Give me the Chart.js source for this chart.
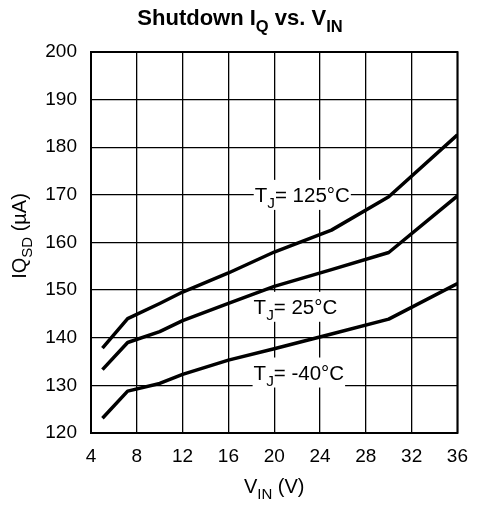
<!DOCTYPE html>
<html>
<head>
<meta charset="utf-8">
<script src="https://cdn.jsdelivr.net/npm/chart.js@4"></script>
<style>
  html, body { margin: 0; padding: 0; background: #fff; }
  #wrap { width: 480px; height: 506px; }
</style>
</head>
<body>
<div id="wrap"><canvas id="c" width="480" height="506"></canvas></div>
<script>
// V_IN (V) sample points and shutdown IQ (uA) per junction temperature
const vin = [5, 7.2, 10, 12, 16, 20, 25, 30, 36];
const iq125 = [137.8, 144.0, 147.2, 149.6, 153.6, 158.0, 162.6, 169.6, 182.6];
const iq25 = [133.3, 139.0, 141.3, 143.6, 147.2, 150.8, 154.3, 157.9, 169.8];
const iqNeg40 = [123.1, 128.8, 130.4, 132.3, 135.3, 137.7, 140.8, 143.9, 151.4];
const xTicks = [4, 8, 12, 16, 20, 24, 28, 32, 36];
const yTicks = [120, 130, 140, 150, 160, 170, 180, 190, 200];

// curve labels: [prefix, subscript, rest, left V, centre IQ]
const curveLabels = [
  ['T', 'J', '= 125°C', 18.3, 170.0],
  ['T', 'J', '= 25°C', 18.2, 146.5],
  ['T', 'J', '= -40°C', 18.2, 132.7],
];

const FONT = '"Liberation Sans", Arial, Helvetica, sans-serif';
const SUB = 0.75;
const LABEL_SIZE = 20.5;

function pts(ys) {
  return vin.map((v, i) => ({ x: v, y: ys[i] }));
}

function setFont(ctx, size, bold, sub) {
  ctx.font = `${bold ? 'bold ' : ''}${sub ? size * SUB : size}px ${FONT}`;
}

function measureRich(ctx, parts, size, bold) {
  return parts.reduce((s, p) => {
    setFont(ctx, size, bold, p.sub);
    return s + ctx.measureText(p.t).width;
  }, 0);
}

// draws text made of normal / subscript runs
function richText(ctx, parts, x, y, size, bold, align) {
  const w = measureRich(ctx, parts, size, bold);
  let cx = align === 'center' ? x - w / 2 : x;
  ctx.textBaseline = 'alphabetic';
  ctx.textAlign = 'left';
  parts.forEach(p => {
    setFont(ctx, size, bold, p.sub);
    ctx.fillText(p.t, cx, p.sub ? y + size * 0.3 : y);
    cx += ctx.measureText(p.t).width;
  });
  return w;
}

const textPlugin = {
  id: 'texts',
  // curve labels sit on white boxes that hide the grid, under the curves
  beforeDatasetsDraw(chart) {
    const { ctx, scales: { x, y } } = chart;
    ctx.save();
    curveLabels.forEach(([p, s, r, lv, li]) => {
      const px = x.getPixelForValue(lv);
      const py = y.getPixelForValue(li);
      const parts = [{ t: p }, { t: s, sub: true }, { t: r }];
      const w = measureRich(ctx, parts, LABEL_SIZE, false);
      ctx.fillStyle = '#fff';
      ctx.fillRect(px - 1, py - 15, w + 2, 30);
      ctx.fillStyle = '#000';
      richText(ctx, parts, px, py + 7, LABEL_SIZE, false, 'left');
    });
    ctx.restore();
  },
  afterDatasetsDraw(chart) {
    const { ctx, chartArea: a } = chart;
    ctx.save();
    ctx.fillStyle = '#000';

    // frame
    ctx.strokeStyle = '#000';
    ctx.lineWidth = 2;
    ctx.strokeRect(a.left, a.top, a.right - a.left, a.bottom - a.top);

    // title
    richText(ctx, [
      { t: 'Shutdown I' }, { t: 'Q', sub: true }, { t: ' vs. V' }, { t: 'IN', sub: true }
    ], 240, 25, 22, true, 'center');

    // x axis title
    richText(ctx, [{ t: 'V' }, { t: 'IN', sub: true }, { t: ' (V)' }],
      (a.left + a.right) / 2, 493, 20, false, 'center');

    // y axis title
    ctx.translate(26, 236);
    ctx.rotate(-Math.PI / 2);
    richText(ctx, [{ t: 'IQ' }, { t: 'SD', sub: true }, { t: ' (µA)' }], 0, 0, 20, false, 'center');
    ctx.restore();
  }
};

const line = (data) => ({
  data: pts(data),
  borderColor: '#000',
  borderWidth: 3.5,
  pointRadius: 0,
  tension: 0,
  fill: false,
  borderJoinStyle: 'round',
});

new Chart(document.getElementById('c'), {
  type: 'line',
  plugins: [textPlugin],
  data: {
    datasets: [line(iq125), line(iq25), line(iqNeg40)],
  },
  options: {
    responsive: false,
    animation: false,
    devicePixelRatio: 1,
    layout: { padding: { top: 52, right: 22, left: 0, bottom: 0 } },
    plugins: { legend: { display: false }, tooltip: { enabled: false } },
    scales: {
      x: {
        type: 'linear',
        min: 4, max: 36,
        afterFit(s) { s.height = 73; },
        afterBuildTicks(s) { s.ticks = xTicks.map(v => ({ value: v })); },
        grid: { color: '#000', lineWidth: 1.3, drawTicks: false },
        border: { display: false },
        ticks: { color: '#000', padding: 12, font: { family: FONT, size: 19 }, maxRotation: 0 },
      },
      y: {
        min: 120, max: 200,
        afterFit(s) { s.width = 91; },
        afterBuildTicks(s) { s.ticks = yTicks.map(v => ({ value: v })); },
        grid: { color: '#000', lineWidth: 1.3, drawTicks: false },
        border: { display: false },
        ticks: { color: '#000', padding: 14, font: { family: FONT, size: 19 } },
      },
    },
  },
});
</script>
</body>
</html>
